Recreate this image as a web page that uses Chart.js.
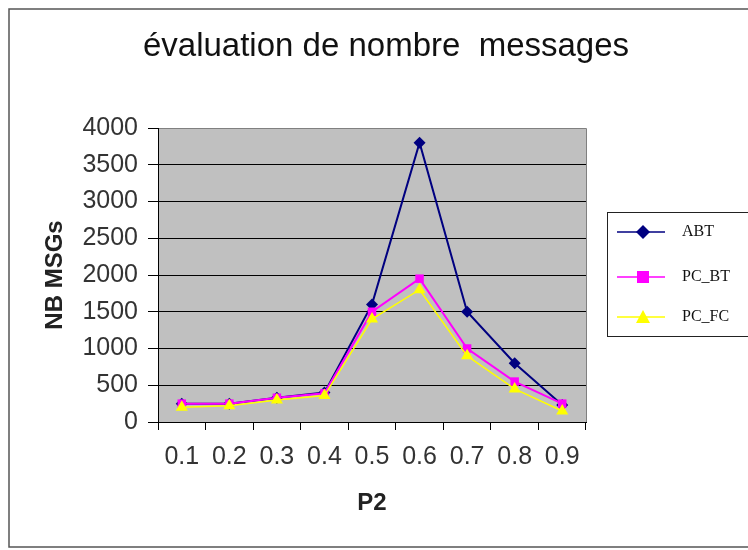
<!DOCTYPE html>
<html>
<head>
<meta charset="utf-8">
<script src="https://cdn.jsdelivr.net/npm/chart.js@4/dist/chart.umd.min.js"></script>
<style>
  html, body { margin: 0; padding: 0; background: #fff; }
  #wrap { width: 748px; height: 550px; }
</style>
</head>
<body>
<div id="wrap"><canvas id="chart" width="748" height="550"></canvas></div>
<script>
const categories = ["0.1", "0.2", "0.3", "0.4", "0.5", "0.6", "0.7", "0.8", "0.9"];
const abt = [250, 250, 330, 400, 1600, 3800, 1500, 800, 230];
const pcBt = [250, 250, 330, 390, 1500, 1950, 1000, 550, 250];
const pcFc = [200, 220, 300, 360, 1400, 1800, 900, 450, 150];
const legendNames = ["ABT", "PC_BT", "PC_FC"];

// frame, grey plot area, title and the boxed legend
const decor = {
  id: "decor",
  beforeDraw(chart) {
    const { ctx, chartArea: a } = chart;
    ctx.save();
    ctx.fillStyle = "#c0c0c0";
    ctx.fillRect(a.left, a.top, a.right - a.left, a.bottom - a.top);
    ctx.strokeStyle = "#808080";
    ctx.lineWidth = 1;
    ctx.beginPath();
    ctx.moveTo(a.left, a.top + 0.5);
    ctx.lineTo(a.right + 0.5, a.top + 0.5);
    ctx.lineTo(a.right + 0.5, a.bottom);
    ctx.stroke();
    ctx.restore();
  },
  afterDraw(chart) {
    const { ctx } = chart;
    ctx.save();
    ctx.strokeStyle = "#555";
    ctx.lineWidth = 1.5;
    ctx.strokeRect(9, 9, 760, 538);

    ctx.fillStyle = "#111";
    ctx.font = "33px 'Liberation Sans', Arial, sans-serif";
    ctx.textAlign = "center";
    ctx.textBaseline = "middle";
    ctx.fillText("évaluation de nombre  messages", 386, 47);

    // legend
    ctx.fillStyle = "#fff";
    ctx.fillRect(607, 212, 150, 125);
    ctx.strokeStyle = "#222";
    ctx.lineWidth = 1;
    ctx.strokeRect(607.5, 212.5, 150, 124);
    const ys = [232, 277, 317];
    chart.data.datasets.forEach((ds, i) => {
      const y = ys[i];
      ctx.strokeStyle = ds.borderColor;
      ctx.lineWidth = 1.5;
      ctx.beginPath();
      ctx.moveTo(617, y);
      ctx.lineTo(665, y);
      ctx.stroke();
      ctx.fillStyle = ds.backgroundColor;
      ctx.beginPath();
      if (ds.pointStyle === "rectRot") {
        ctx.moveTo(643, y - 7); ctx.lineTo(650, y); ctx.lineTo(643, y + 7); ctx.lineTo(636, y);
      } else if (ds.pointStyle === "rect") {
        ctx.rect(637, y - 6, 12, 12);
      } else {
        ctx.moveTo(643, y - 7); ctx.lineTo(650, y + 6); ctx.lineTo(636, y + 6);
      }
      ctx.closePath();
      ctx.fill();
      ctx.fillStyle = "#111";
      ctx.font = "16px 'Liberation Serif', 'Times New Roman', serif";
      ctx.textAlign = "left";
      ctx.textBaseline = "middle";
      ctx.fillText(legendNames[i], 682, y);
    });
    ctx.restore();
  }
};

new Chart(document.getElementById("chart"), {
  type: "line",
  data: {
    labels: categories,
    datasets: [
      {
        label: legendNames[0], data: abt, order: 3,
        borderColor: "#000080", backgroundColor: "#000080", borderWidth: 2,
        pointStyle: "rectRot", pointRadius: 6, pointBorderWidth: 0
      },
      {
        label: legendNames[1], data: pcBt, order: 2,
        borderColor: "#ff00ff", backgroundColor: "#ff00ff", borderWidth: 2,
        pointStyle: "rect", pointRadius: 6, pointBorderWidth: 0
      },
      {
        label: legendNames[2], data: pcFc, order: 1,
        borderColor: "#ffff00", backgroundColor: "#ffff00", borderWidth: 1.5,
        pointStyle: "triangle", pointRadius: 7, pointBorderWidth: 0
      }
    ]
  },
  options: {
    responsive: false,
    animation: false,
    layout: { padding: { left: 40, right: 162, top: 128, bottom: 20 } },
    plugins: { legend: { display: false }, tooltip: { enabled: false } },
    scales: {
      x: {
        offset: true,
        afterFit(s) { s.height = 108; },
        grid: { offset: true, drawOnChartArea: false, tickLength: 8, color: "#000", tickColor: "#000" },
        border: { color: "#000", width: 1 },
        ticks: { color: "#333", padding: 12, maxRotation: 0, autoSkip: false,
          font: { family: "'Liberation Sans', Arial, sans-serif", size: 25 } },
        title: { display: true, text: "P2", color: "#222", padding: { top: 0, bottom: 12 },
          font: { family: "'Liberation Sans', Arial, sans-serif", size: 24, weight: "bold" } }
      },
      y: {
        min: 0, max: 4000,
        afterFit(s) { s.width = 118; },
        grid: { color: (c) => c.tick.value === 4000 ? "rgba(0,0,0,0)" : "#000", tickLength: 10, tickColor: "#000" },
        border: { color: "#000", width: 1 },
        ticks: { stepSize: 500, color: "#333", padding: 10, callback: (v) => String(v),
          font: { family: "'Liberation Sans', Arial, sans-serif", size: 25 } },
        title: { display: true, text: "NB MSGs", color: "#222", padding: { top: 1, bottom: 0 },
          font: { family: "'Liberation Sans', Arial, sans-serif", size: 24, weight: "bold" } }
      }
    }
  },
  plugins: [decor]
});
</script>
</body>
</html>
